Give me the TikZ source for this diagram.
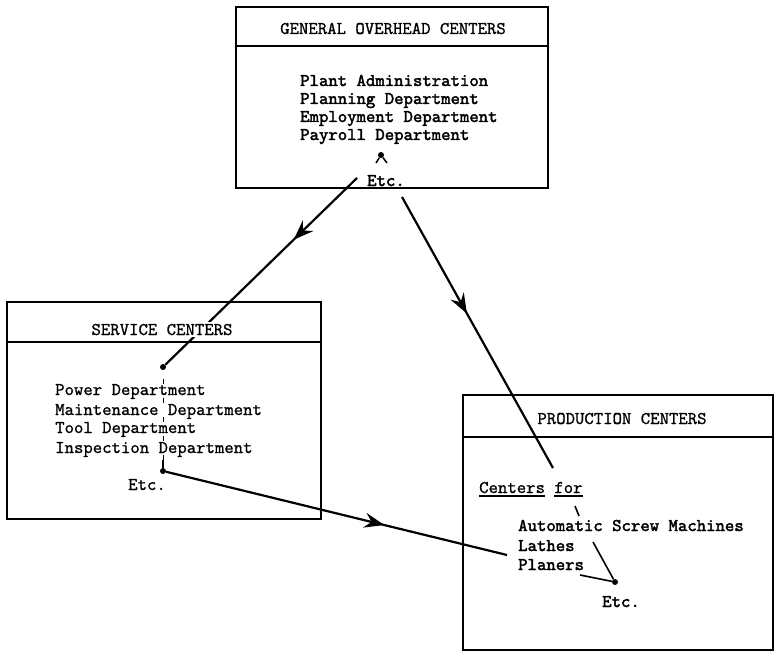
\documentclass[tikz,border=0pt]{standalone}
\usepackage{fontspec}
\newfontfamily\typeface{lmmono10-regular}[Extension=.otf, FakeBold=0.9]
\newfontfamily\typebold{lmmono10-regular}[Extension=.otf, FakeBold=2.2]
\usetikzlibrary{arrows.meta,decorations.markings}
\newcommand{\TypeSize}{\fontsize{17.9}{20}\selectfont}
\tikzstyle{box} = [draw=black, line width=2.2pt, inner sep=0pt]
\tikzstyle{rule} = [line width=2.2pt]
\tikzstyle{head} = [font=\typeface\TypeSize, inner sep=1.5pt, fill=white, anchor=base]
\tikzstyle{item} = [font=\typeface\TypeSize, inner sep=0pt, anchor=base west]
\tikzstyle{itemB} = [item, font=\typebold\TypeSize]
\tikzstyle{dot} = [circle, fill=black, inner sep=0pt, minimum size=6pt]
\tikzset{flow/.style={line width=2.2pt, postaction={decorate},
  decoration={markings, mark=at position #1 with {\arrow{Stealth[length=20pt,width=15pt,inset=7pt]}}}}}

\begin{document}
\begin{tikzpicture}[x=1pt, y=-1pt]
\useasboundingbox (0,0) rectangle (775,655);

% Boxes
\node[box, minimum width=312pt, minimum height=181pt] (goc) at (392,97.5)  {};
\node[box, minimum width=314pt, minimum height=217pt] (sc)  at (164,410.5) {};
\node[box, minimum width=310pt, minimum height=255pt] (pc)  at (618,522.5) {};
\draw[rule] ([yshift=-40pt]goc.north west) -- ([yshift=-40pt]goc.north east);
\draw[rule] ([yshift=-41pt]sc.north west)  -- ([yshift=-41pt]sc.north east);
\draw[rule] ([yshift=-43pt]pc.north west)  -- ([yshift=-43pt]pc.north east);

% Dots and loose ends
\node[dot] (gdot) at (381,155) {};
\node[dot] (sdot) at (163,367) {};
\node[dot] (edot) at (163,471) {};
\node[dot] (pdot) at (615,582) {};
\coordinate (gl) at (376,163);
\coordinate (gr) at (387,163);
\coordinate (gout1) at (357,178);
\coordinate (gout2) at (402,197);
\coordinate (pin) at (553,468);
\coordinate (lin) at (507,555);
\coordinate (tickA) at (575,506);
\coordinate (tickB) at (579,516);
\coordinate (autoE) at (593,542);
\coordinate (planE) at (580,575);

% Edges
\draw[line width=1.5pt] (gl) -- (gdot) -- (gr);
\draw[flow=0.33] (gout1) -- (sdot);
\draw[flow=0.43] (gout2) -- (pin);
\draw[flow=0.64] (edot) -- (lin);
\draw[line width=0.8pt, dash pattern=on 5pt off 14pt, dash phase=10pt] (sdot) -- (edot);
\draw[line width=1.2pt] ([yshift=11pt]edot.center) -- (edot);
\draw[line width=1.6pt] (tickA) -- (tickB) (autoE) -- (pdot) (planE) -- (pdot);

% Titles
\node[head] (goct) at (393,34)  {GENERAL OVERHEAD CENTERS};
\node[head] (sct)  at (162,335) {SERVICE CENTERS};
\node[head] (pct)  at (622,424) {PRODUCTION CENTERS};

% General overhead centers
\node[itemB] (plant) at (300,86)  {Plant Administration};
\node[itemB] (plan)  at (300,104) {Planning Department};
\node[itemB] (empl)  at (300,122) {Employment Department};
\node[itemB] (pay)   at (300,140) {Payroll Department};
\node[itemB] (getc)  at (367,186) {Etc.};

% Service centers
\node[item] (power) at (55,395) {Power Department};
\node[item] (maint) at (55,415) {Maintenance Department};
\node[item] (tool)  at (55,433) {Tool Department};
\node[item] (insp)  at (55,453) {Inspection Department};
\node[item] (setc)  at (128,490) {Etc.};

% Production centers
\node[item] (cfor) at (479,493) {Centers for};
\draw[line width=1.2pt] ([yshift=-3pt]cfor.base west) -- ([xshift=66pt, yshift=-3pt]cfor.base west);
\draw[line width=1.2pt] ([xshift=75pt, yshift=-3pt]cfor.base west) -- ([xshift=104pt, yshift=-3pt]cfor.base west);
\node[itemB] (autom) at (518,531) {Automatic Screw Machines};
\node[itemB] (lathe) at (518,551) {Lathes};
\node[itemB] (plane) at (518,570) {Planers};
\node[itemB] (petc)  at (602,607) {Etc.};
\end{tikzpicture}
\end{document}
